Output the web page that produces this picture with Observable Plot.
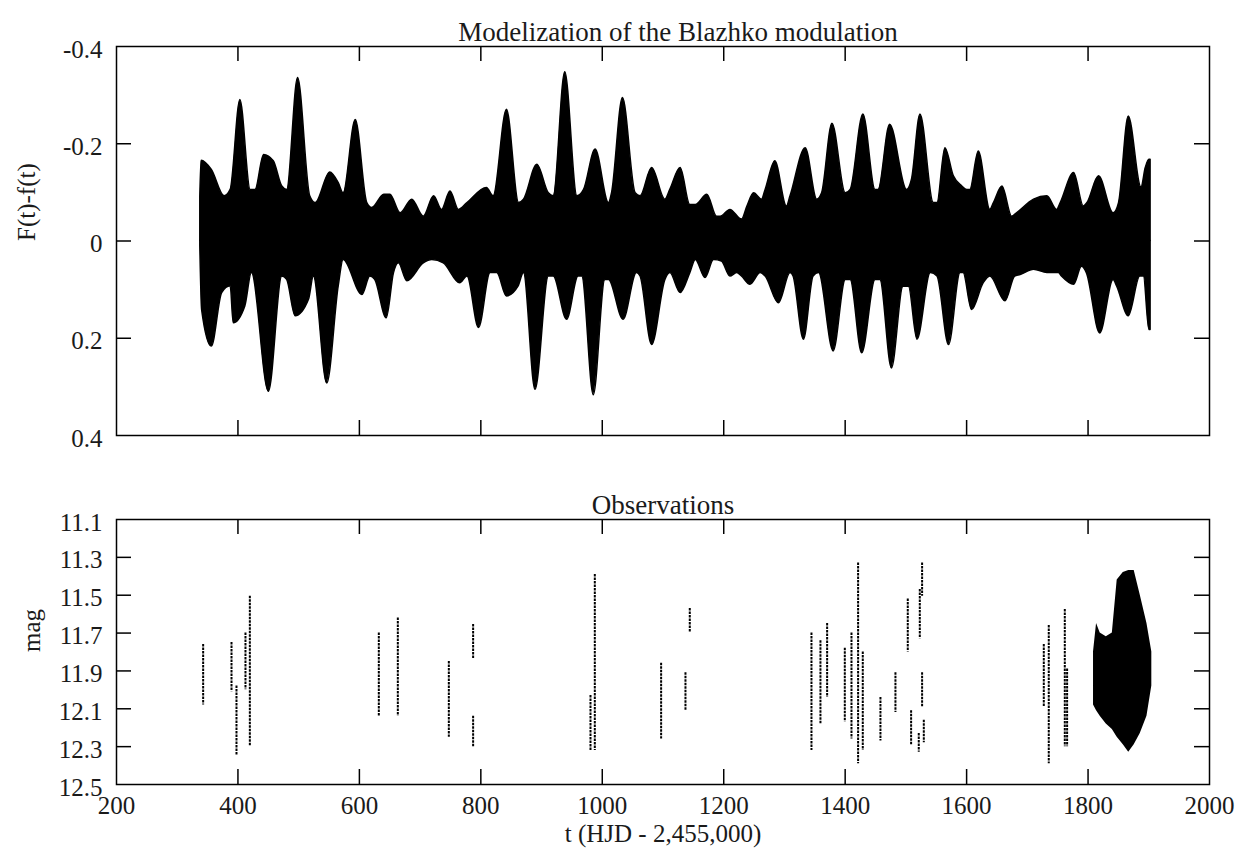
<!DOCTYPE html>
<html><head><meta charset="utf-8">
<script src="https://cdn.jsdelivr.net/npm/d3@7"></script>
<script src="https://cdn.jsdelivr.net/npm/@observablehq/plot@0.6"></script>
<style>
body{margin:0;background:#fff;}
#wrap{position:relative;width:1255px;height:864px;background:#fff;}
#top,#bot{position:absolute;left:0;}
#top{top:0;} #bot{top:480px;}
svg{overflow:visible;}
</style></head><body><div id="wrap"><div id="top"></div><div id="bot"></div></div>
<script>
// ---- Data: top panel envelope of F(t)-f(t) ----
const upperT = [338,340,357,378,388,404,421,429,443,459,473,481,499,519,528,552,566,574,594,613,621,641,651,668,687,706,723,
  736,750,764,778,810,821,843,863,871,893,912,920,939,959,970,989,1011,1016,1034,1055,1063,1082,1104,1112,
  1129,1145,1154,1173,1189,1195,1211,1230,1239,1250,1263,1269,1285,1304,1310,1335,1354,1362,1379,1401,1409,1430,1450,1455,1474,1502,1510,
  1524,1546,1552,1565,1579,1593,1601,1606,1620,1639,1645,1659,1675,1683,1711,1733,1749,1755,1777,1793,1799,1818,1842,1851,1867,1888,1895,1901,1903];
const upperV = [-0.09,-0.165,-0.146,-0.092,-0.105,-0.29,-0.105,-0.105,-0.177,-0.164,-0.112,-0.105,-0.335,-0.092,-0.078,-0.141,-0.119,-0.098,-0.249,-0.078,-0.068,-0.095,-0.095,-0.057,-0.085,-0.05,-0.092,
  -0.064,-0.102,-0.064,-0.078,-0.109,-0.092,-0.27,-0.078,-0.085,-0.157,-0.098,-0.092,-0.347,-0.092,-0.105,-0.188,-0.078,-0.098,-0.294,-0.098,-0.092,-0.15,-0.085,-0.105,
  -0.15,-0.074,-0.074,-0.095,-0.05,-0.05,-0.064,-0.044,-0.071,-0.098,-0.085,-0.105,-0.164,-0.071,-0.092,-0.191,-0.085,-0.098,-0.241,-0.098,-0.105,-0.26,-0.105,-0.105,-0.239,-0.105,-0.126,
  -0.26,-0.078,-0.078,-0.191,-0.133,-0.112,-0.105,-0.105,-0.184,-0.064,-0.078,-0.112,-0.05,-0.057,-0.085,-0.092,-0.064,-0.078,-0.14,-0.071,-0.078,-0.133,-0.057,-0.078,-0.256,-0.11,-0.15,-0.167,-0.167];
const lowerT = [338,341,357,374,388,393,412,423,451,473,481,495,517,525,547,566,574,605,618,626,645,657,665,679,706,720,
  739,766,778,797,816,827,843,862,871,890,912,920,942,961,967,986,1005,1011,1035,1057,1063,1082,1104,1112,
  1129,1145,1154,1170,1184,1197,1211,1222,1230,1244,1261,1269,1291,1310,1315,1332,1348,1357,1381,1401,1409,1428,1450,1458,1477,1496,1505,
  1519,1541,1552,1571,1590,1595,1609,1628,1639,1664,1680,1689,1711,1733,1752,1757,1777,1790,1798,1820,1842,1848,1867,1886,1892,1901,1903];
const lowerV = [0.01,0.142,0.217,0.107,0.093,0.169,0.135,0.066,0.31,0.073,0.08,0.155,0.121,0.073,0.293,0.093,0.039,0.111,0.073,0.08,0.159,0.066,0.046,0.083,0.046,0.039,
  0.046,0.087,0.073,0.179,0.066,0.066,0.114,0.094,0.066,0.306,0.073,0.073,0.162,0.073,0.073,0.317,0.08,0.08,0.162,0.066,0.073,0.214,0.08,0.066,
  0.107,0.066,0.039,0.076,0.039,0.042,0.073,0.066,0.073,0.09,0.066,0.073,0.128,0.066,0.073,0.203,0.073,0.066,0.227,0.08,0.08,0.231,0.08,0.08,0.262,0.094,0.094,
  0.203,0.066,0.073,0.214,0.066,0.066,0.142,0.087,0.073,0.124,0.073,0.07,0.059,0.066,0.066,0.073,0.09,0.053,0.066,0.19,0.08,0.094,0.155,0.073,0.073,0.183,0.183];

// ---- Data: observations (vertical runs of points) ----
const obsT      = [342.7,389.4,397.6,412.4,419.6,632,663.3,747.3,787.3,787.3,980.6,987.7,1096.9,1137,1144.1,1344.5,1359.3,1370.3,1399.4,1410.4,1421.3,1429,1458.1,1482.8,1503.1,1508.6,1522.9,1526.7,1526.7,1521.2,1529.5,1727.1,1735.3,1761.7,1765.5];
const obsTop    = [11.76,11.75,11.98,11.70,11.505,11.70,11.62,11.85,11.655,12.14,12.03,11.39,11.86,11.91,11.57,11.70,11.74,11.65,11.78,11.70,11.33,11.80,12.04,11.91,11.52,12.11,11.47,11.33,11.91,12.23,12.16,11.76,11.66,11.575,11.89];
const obsBottom = [12.08,12.01,12.35,12.00,12.30,12.14,12.14,12.25,11.84,12.30,12.32,12.32,12.26,12.11,11.70,12.32,12.18,12.04,12.17,12.26,12.39,12.32,12.27,12.12,11.80,12.29,11.73,11.505,12.09,12.33,12.28,12.09,12.39,12.30,12.30];
// dense cluster of observations near the end
const clusterT      = [1809,1814,1820,1830,1840,1848,1858,1867,1876,1886,1897,1905];
const clusterTop    = [11.80,11.65,11.70,11.72,11.70,11.42,11.38,11.37,11.37,11.50,11.65,11.80];
const clusterBottom = [12.08,12.11,12.14,12.18,12.21,12.25,12.29,12.33,12.29,12.23,12.14,11.98];

// ---- Tick values ----
const xTicks = [200,400,600,800,1000,1200,1400,1600,1800,2000];
const yTicksTop = [-0.4,-0.2,0,0.2,0.4];
const yTicksBot = [11.1,11.3,11.5,11.7,11.9,12.1,12.3,12.5];

const upper = upperT.map((t,i)=>({t, v: upperV[i]}));
const lower = lowerT.map((t,i)=>({t, v: lowerV[i]}));
const obs = obsT.map((t,i)=>({t, top: obsTop[i], bottom: obsBottom[i]}));
const cluster = clusterT.map((t,i)=>({t, top: clusterTop[i], bottom: clusterBottom[i]}));

const FONT = "'Liberation Serif','Times New Roman',serif";
const W = 1255, ML = 116, MR = 46, TICK = 15;
const innerW = W - ML - MR;
const INK = "#1a1a1a";
const inner = (arr, lo, hi) => arr.filter(d => d !== lo && d !== hi);

// Top panel
const topH = 480, topMT = 46, topMB = 45, topInner = topH - topMT - topMB;
const topPlot = Plot.plot({
  width: W, height: topH, marginLeft: ML, marginRight: MR, marginTop: topMT, marginBottom: topMB,
  style: {fontFamily: FONT, fontSize: "25px", color: INK, background: "white", overflow: "visible"},
  x: {domain: [200, 2000], axis: null},
  y: {domain: [-0.4, 0.4], reverse: true, axis: null},
  marks: [
    Plot.areaY(upper, {x: "t", y1: 0, y2: "v", fill: "black", stroke: "black", strokeWidth: 1.5, curve: "monotone-x"}),
    Plot.areaY(lower, {x: "t", y1: 0, y2: "v", fill: "black", stroke: "black", strokeWidth: 1.5, curve: "monotone-x"}),
    Plot.ruleX(inner(xTicks,200,2000), {x: d => d, insetTop: topInner - TICK, stroke: "black", strokeWidth: 1.5}),
    Plot.ruleX(inner(xTicks,200,2000), {x: d => d, insetBottom: topInner - TICK, stroke: "black", strokeWidth: 1.5}),
    Plot.ruleY(inner(yTicksTop,-0.4,0.4), {y: d => d, insetRight: innerW - TICK, stroke: "black", strokeWidth: 1.5}),
    Plot.ruleY(inner(yTicksTop,-0.4,0.4), {y: d => d, insetLeft: innerW - TICK, stroke: "black", strokeWidth: 1.5}),
    Plot.axisY(yTicksTop, {anchor: "left", tickSize: 0, tickPadding: 14, label: null, dy: 3,
      tickFormat: d => d === 0 ? "0" : d.toFixed(1)}),
    Plot.frame({stroke: "black", strokeWidth: 1.5}),
    Plot.text(["Modelization of the Blazhko modulation"], {frameAnchor: "top", dy: -25, dx: 15, fontSize: 27, fill: INK}),
    Plot.text(["F(t)-f(t)"], {frameAnchor: "left", rotate: -90, dx: -90, fontSize: 25, fill: INK})
  ]
});
document.getElementById("top").append(topPlot);

// Bottom panel
const botH = 384, botMT = 39, botMB = 80, botInner = botH - botMT - botMB;
const botPlot = Plot.plot({
  width: W, height: botH, marginLeft: ML, marginRight: MR, marginTop: botMT, marginBottom: botMB,
  style: {fontFamily: FONT, fontSize: "25px", color: INK, background: "white", overflow: "visible"},
  x: {domain: [200, 2000]},
  y: {domain: [11.1, 12.5], reverse: true},
  marks: [
    Plot.ruleX(obs, {x: "t", y1: "top", y2: "bottom", stroke: "black", strokeWidth: 2, strokeDasharray: "2.5,1"}),
    Plot.areaY(cluster, {x: "t", y1: "top", y2: "bottom", fill: "black", curve: "linear"}),
    Plot.ruleX(inner(xTicks,200,2000), {x: d => d, insetTop: botInner - TICK, stroke: "black", strokeWidth: 1.5}),
    Plot.ruleX(inner(xTicks,200,2000), {x: d => d, insetBottom: botInner - TICK, stroke: "black", strokeWidth: 1.5}),
    Plot.ruleY(inner(yTicksBot,11.1,12.5), {y: d => d, insetRight: innerW - TICK, stroke: "black", strokeWidth: 1.5}),
    Plot.ruleY(inner(yTicksBot,11.1,12.5), {y: d => d, insetLeft: innerW - TICK, stroke: "black", strokeWidth: 1.5}),
    Plot.axisY(yTicksBot, {anchor: "left", tickSize: 0, tickPadding: 14, label: null, dy: 3,
      tickFormat: d => d.toFixed(1)}),
    Plot.axisX(xTicks, {anchor: "bottom", tickSize: 0, tickPadding: 12, label: null, tickFormat: d => String(d)}),
    Plot.frame({stroke: "black", strokeWidth: 1.5}),
    Plot.text(["Observations"], {frameAnchor: "top", dy: -25, fontSize: 27, fill: INK}),
    Plot.text(["mag"], {frameAnchor: "left", rotate: -90, dx: -85, fontSize: 25, fill: INK}),
    Plot.text(["t (HJD - 2,455,000)"], {frameAnchor: "bottom", dy: 57, fontSize: 25, fill: INK})
  ]
});
document.getElementById("bot").append(botPlot);
</script>
</body></html>
